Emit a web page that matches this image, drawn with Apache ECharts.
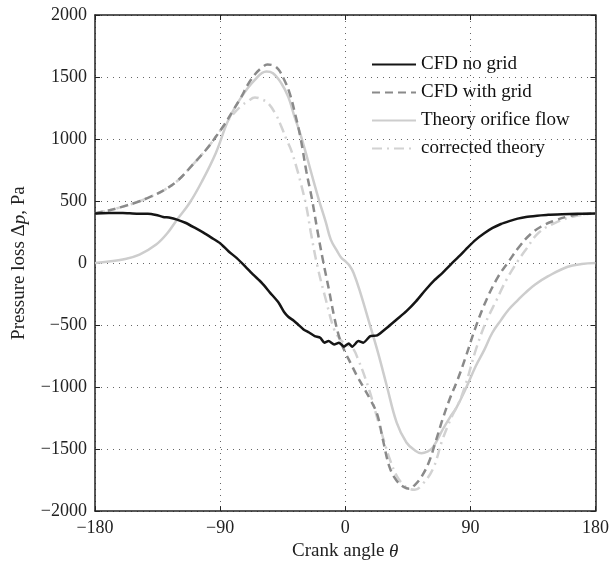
<!DOCTYPE html>
<html>
<head>
<meta charset="utf-8">
<script src="https://cdn.jsdelivr.net/npm/echarts@6/dist/echarts.min.js"></script>
<style>html,body{margin:0;padding:0;background:#fff}#c{width:612px;height:566px}</style>
</head>
<body>
<div id="c"></div>
<script>
var xTicks = [-180, -90, 0, 90, 180];
var yTicks = [-2000, -1500, -1000, -500, 0, 500, 1000, 1500, 2000];

var noGridAngles = [-180,-170,-160,-150,-142,-136,-131,-126,-121,-115,-108,-102,-96,-90,-84,-78,-72,-66,-60,-54,-48,-44,-41,-37,-34,-30,-26,-22,-18,-15,-12,-8,-4.5,-1,2.5,5,9.5,13,18,23,30,37,44,51,58,64,70,76,82,88,94,100,106,112,118,124,130,138,146,156,167,180];
var noGridValues = [400,403,404,398,398,388,372,365,350,325,283,245,203,160,95,40,-26,-95,-160,-240,-318,-395,-433,-465,-495,-535,-560,-589,-602,-642,-629,-656,-642,-674,-648,-674,-629,-642,-589,-583,-522,-455,-388,-307,-213,-140,-79,-10,55,125,189,240,283,315,338,358,372,382,390,394,397,400];

var withGridAngles = [-180,-170,-160,-150,-140,-130,-120,-110,-100,-93,-87,-81,-75,-70,-65,-60,-56,-52,-48,-44,-40,-36,-32,-28,-24,-20,-16,-12,-8,-4,0,4,8,13,18,23,27,32,37,42,46,50,55,60,65,70,75,81,87,94,102,110,118,125,133,141,150,160,170,180];
var withGridValues = [400,425,455,490,535,590,670,790,915,1020,1115,1225,1335,1440,1520,1575,1600,1595,1560,1480,1370,1200,1000,740,520,260,20,-200,-430,-610,-720,-810,-900,-1000,-1100,-1220,-1420,-1650,-1755,-1805,-1820,-1790,-1720,-1610,-1440,-1260,-1100,-935,-745,-510,-285,-110,20,130,230,295,340,375,395,400];

var theoryAngles = [-180,-170,-160,-148,-136,-128,-121,-112,-103,-93,-84,-74.5,-65,-56.7,-52,-46,-41,-36.5,-32,-27,-22.3,-18.7,-14,-10.4,-6,-3,0,3,6,10.9,18,24,29.9,37,44,50,54.8,59,63,70.2,75,80,86,93.9,100,105.8,112,117.6,124,129.5,136.6,146,160,170,180];
var theoryValues = [0,12,28,68,149,240,350,484,660,890,1155,1342,1477,1544,1530,1450,1340,1181,1030,833,640,500,330,189,100,45,15,-20,-80,-240,-509,-740,-991,-1286,-1447,-1510,-1533,-1520,-1487,-1340,-1250,-1165,-1030,-830,-700,-562,-460,-374,-300,-240,-173,-106,-30,-8,0];

var correctedAngles = [-180,-170,-160,-150,-140,-130,-120,-110,-100,-93,-87,-81,-75,-70,-65,-60,-55.5,-50,-46,-42,-39,-35,-32,-28,-24.7,-20,-14,-8,-4,-1,3,6,9,13,18,23,27.5,32,37,42,46,50,55,63,70,77,82,87,94,101,109,116,124,130,139,151,165,180];
var correctedValues = [400,425,455,490,535,590,670,790,915,1020,1110,1195,1265,1305,1335,1320,1289,1200,1101,990,913,770,645,457,243,-26,-294,-535,-610,-642,-670,-696,-770,-884,-1050,-1250,-1420,-1580,-1716,-1790,-1820,-1828,-1790,-1662,-1421,-1230,-1120,-964,-696,-481,-294,-133,14,110,243,324,377,400];

function pairs(a, v) { return a.map(function (x, i) { return [x, v[i]]; }); }

var FONT = 'Liberation Serif';
var minus = function (v) { return String(v).replace('-', '\u2212'); };

var chart = echarts.init(document.getElementById('c'));
var gridLine = { show: true, lineStyle: { color: '#666', type: [1, 5], width: 1 } };
var tick = { show: true, inside: true, length: 5, lineStyle: { color: '#222', width: 1 } };
var axLine = { show: true, onZero: false, lineStyle: { color: '#222', width: 1.5 } };

chart.setOption({
  animation: false,
  backgroundColor: '#fff',
  grid: { left: 95, right: 11, top: 15, bottom: 54, containLabel: false },
  legend: {
    orient: 'vertical', left: 366, top: 50,
    itemWidth: 44, itemHeight: 14, itemGap: 9,
    itemStyle: { opacity: 0 },
    textStyle: { fontFamily: FONT, fontSize: 19, color: '#111', lineHeight: 18 },
    data: ['CFD no grid', 'CFD with grid', 'Theory orifice flow', 'corrected theory']
  },
  xAxis: [{
    type: 'value', min: -180, max: 180, interval: 90,
    axisLine: axLine, axisTick: tick, splitLine: gridLine,
    axisLabel: { fontFamily: FONT, fontSize: 18, color: '#222', margin: 8, formatter: minus },
    name: 'Crank angle {i|\u03b8}', nameLocation: 'middle', nameGap: 27,
    nameTextStyle: { fontFamily: FONT, fontSize: 19, color: '#222', rich: { i: { fontFamily: FONT, fontSize: 19, fontStyle: 'italic', color: '#222' } } }
  }, {
    type: 'value', position: 'top', min: -180, max: 180, interval: 90,
    axisLine: axLine, axisTick: tick, splitLine: { show: false }, axisLabel: { show: false }
  }],
  yAxis: [{
    type: 'value', min: -2000, max: 2000, interval: 500,
    axisLine: axLine, axisTick: tick, splitLine: gridLine,
    axisLabel: { fontFamily: FONT, fontSize: 18, color: '#222', margin: 8, formatter: minus },
    name: 'Pressure loss \u0394{i|p}, Pa', nameLocation: 'middle', nameGap: 66,
    nameTextStyle: { fontFamily: FONT, fontSize: 19, color: '#222', rich: { i: { fontFamily: FONT, fontSize: 19, fontStyle: 'italic', color: '#222' } } }
  }, {
    type: 'value', position: 'right', min: -2000, max: 2000, interval: 500,
    axisLine: axLine, axisTick: tick, splitLine: { show: false }, axisLabel: { show: false }
  }],
  series: [
    { name: 'Theory orifice flow', type: 'line', symbol: 'none', smooth: 0.4, data: pairs(theoryAngles, theoryValues),
      lineStyle: { color: '#cdcdcd', width: 2.5 }, itemStyle: { color: '#cdcdcd' } },
    { name: 'corrected theory', type: 'line', symbol: 'none', smooth: 0.4, data: pairs(correctedAngles, correctedValues),
      lineStyle: { color: '#d2d2d2', width: 2.5, type: [10, 5, 2, 5] }, itemStyle: { color: '#d2d2d2' } },
    { name: 'CFD with grid', type: 'line', symbol: 'none', smooth: 0.4, data: pairs(withGridAngles, withGridValues),
      lineStyle: { color: '#8a8a8a', width: 2.5, type: [8, 5] }, itemStyle: { color: '#8a8a8a' } },
    { name: 'CFD no grid', type: 'line', symbol: 'none', smooth: 0.2, data: pairs(noGridAngles, noGridValues),
      lineStyle: { color: '#151515', width: 2.5 }, itemStyle: { color: '#151515' } }
  ]
});
</script>
</body>
</html>
